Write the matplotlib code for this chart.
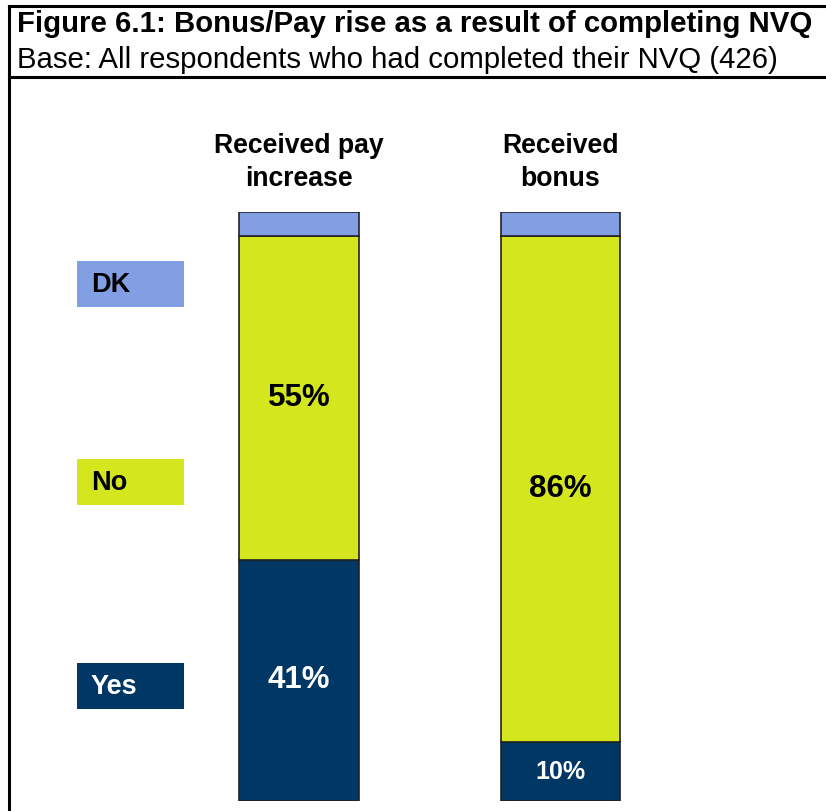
import matplotlib
matplotlib.use("Agg")
import matplotlib.pyplot as plt
from matplotlib.patches import Rectangle
from matplotlib.lines import Line2D
import numpy as np

# data
categories = ["Received pay\nincrease", "Received\nbonus"]
series_names = ["Yes", "No", "DK"]
yes_vals = [41, 10]
no_vals = [55, 86]
dk_vals = [4, 4]
show_labels = {"Yes": [True, True], "No": [True, True], "DK": [False, False]}

colors = {"Yes": "#003764", "No": "#D4E61E", "DK": "#829FE4"}
text_colors = {"Yes": "white", "No": "black", "DK": "black"}

W, H = 826, 811
plt.rcParams['font.family'] = ['Liberation Sans', 'DejaVu Sans']


def fx(px):
    return px / W


def fy(py):
    return 1 - py / H


fig = plt.figure(figsize=(W / 100, H / 100), dpi=100)

# frame lines
fig.add_artist(Line2D([fx(9), 1], [fy(6), fy(6)], color="black", lw=2.2, transform=fig.transFigure))
fig.add_artist(Line2D([fx(9), 1], [fy(77), fy(77)], color="black", lw=2.2, transform=fig.transFigure))
fig.add_artist(Line2D([fx(9), fx(9)], [fy(6), 0], color="black", lw=2.2, transform=fig.transFigure))

# title
fig.text(fx(17), fy(24), "Figure 6.1: Bonus/Pay rise as a result of completing NVQ",
         fontsize=21.2, fontweight="bold", va="center", ha="left")
fig.text(fx(17), fy(60), "Base: All respondents who had completed their NVQ (426)",
         fontsize=21.2, va="center", ha="left")

# bar axes
ax = fig.add_axes([fx(168.25), 1 - 801 / H, 523 / W, 589 / H])
x = np.arange(len(categories))
bw = 119.5 / 261.5
bottom = np.zeros(len(categories))
vals = {"Yes": yes_vals, "No": no_vals, "DK": dk_vals}
for name in series_names:
    v = np.array(vals[name])
    ax.bar(x, v, bw, bottom=bottom, color=colors[name], edgecolor="#222222", linewidth=1.2)
    for i in range(len(x)):
        if show_labels[name][i]:
            fs = 18 if v[i] < 15 else 22.5
            ax.text(x[i], bottom[i] + v[i] / 2, f"{v[i]}%", ha="center", va="center",
                    color=text_colors[name], fontsize=fs, fontweight="bold")
    bottom = bottom + v

ax.set_xlim(-0.5, 1.5)
ax.set_ylim(0, 100)
ax.axis("off")

# category labels above bars
for i, c in enumerate(categories):
    ax.annotate(c, xy=(x[i], 100), xycoords="data", xytext=(0, 20), textcoords="offset pixels",
                ha="center", va="bottom", fontsize=19.2, fontweight="bold", linespacing=1.33)

# legend boxes
legend_y = {"DK": 261, "No": 459, "Yes": 663}
for name in ["DK", "No", "Yes"]:
    top = legend_y[name]
    fig.add_artist(Rectangle((fx(77), fy(top + 46)), 107 / W, 46 / H, facecolor=colors[name],
                             edgecolor="none", transform=fig.transFigure))
    fig.text(fx(91), fy(top + 24), name, fontsize=19.5, fontweight="bold",
             color=text_colors[name], va="center", ha="left")

fig.savefig("out.png", dpi=100)
